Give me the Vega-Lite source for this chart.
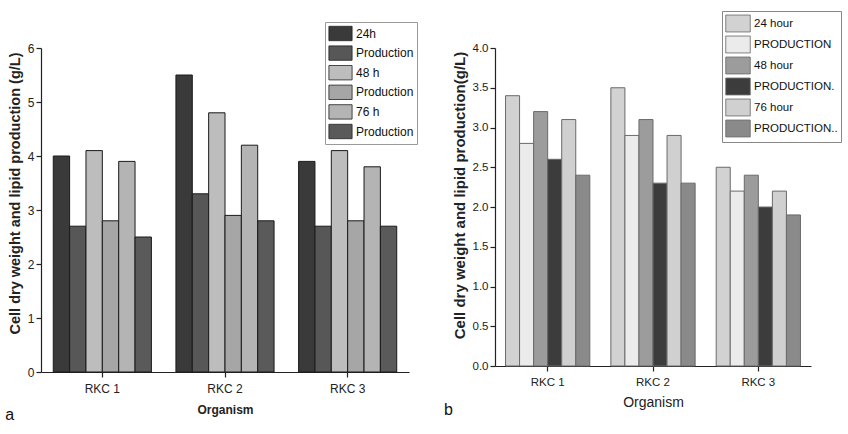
{
  "$schema": "https://vega.github.io/schema/vega-lite/v6.json",
  "background": "white",
  "padding": {"left": 5, "top": 10, "right": 2, "bottom": 0},
  "spacing": 26,
  "resolve": {"scale": {"color": "independent", "xOffset": "independent", "x": "independent", "y": "independent"}, "legend": {"color": "independent"}},
  "config": {
    "font": "Liberation Sans, Arial, sans-serif",
    "view": {"stroke": null},
    "axis": {"labelFont": "Liberation Sans, Arial, sans-serif", "titleFont": "Liberation Sans, Arial, sans-serif", "domainColor": "#222", "tickColor": "#222", "labelColor": "#222", "titleColor": "#222", "grid": false, "domainWidth": 1.2, "tickWidth": 1.2, "tickSize": 5},
    "legend": {"labelFont": "Liberation Sans, Arial, sans-serif"},
    "title": {"font": "Liberation Sans, Arial, sans-serif"}
  },
  "hconcat": [
    {
      "width": 368,
      "height": 324,
      "title": {"text": "a", "orient": "bottom", "anchor": "start", "frame": "bounds", "fontSize": 16, "fontWeight": "normal", "color": "#111", "offset": 0, "dy": -8, "dx": -2},
      "data": {"values": [
        {"organism": "RKC 1", "series": "24h", "value": 4.0},
        {"organism": "RKC 1", "series": "Production (24h)", "value": 2.7},
        {"organism": "RKC 1", "series": "48 h", "value": 4.1},
        {"organism": "RKC 1", "series": "Production (48 h)", "value": 2.8},
        {"organism": "RKC 1", "series": "76 h", "value": 3.9},
        {"organism": "RKC 1", "series": "Production (76 h)", "value": 2.5},
        {"organism": "RKC 2", "series": "24h", "value": 5.5},
        {"organism": "RKC 2", "series": "Production (24h)", "value": 3.3},
        {"organism": "RKC 2", "series": "48 h", "value": 4.8},
        {"organism": "RKC 2", "series": "Production (48 h)", "value": 2.9},
        {"organism": "RKC 2", "series": "76 h", "value": 4.2},
        {"organism": "RKC 2", "series": "Production (76 h)", "value": 2.8},
        {"organism": "RKC 3", "series": "24h", "value": 3.9},
        {"organism": "RKC 3", "series": "Production (24h)", "value": 2.7},
        {"organism": "RKC 3", "series": "48 h", "value": 4.1},
        {"organism": "RKC 3", "series": "Production (48 h)", "value": 2.8},
        {"organism": "RKC 3", "series": "76 h", "value": 3.8},
        {"organism": "RKC 3", "series": "Production (76 h)", "value": 2.7}
      ]},
      "mark": {"type": "bar", "stroke": "#1a1a1a", "strokeWidth": 1},
      "encoding": {
        "x": {"field": "organism", "type": "nominal", "scale": {"paddingInner": 0.2, "paddingOuter": 0.1},
          "axis": {"labelAngle": 0, "title": "Organism", "titleFontWeight": "bold", "titleFontSize": 12, "labelFontSize": 12, "titlePadding": 10, "labelPadding": 6}},
        "xOffset": {"field": "series", "type": "nominal", "scale": {"domain": ["24h", "Production (24h)", "48 h", "Production (48 h)", "76 h", "Production (76 h)"], "paddingInner": 0, "paddingOuter": 0}},
        "y": {"field": "value", "type": "quantitative", "scale": {"domain": [0, 6]},
          "axis": {"title": "Cell dry weight and lipid production (g/L)", "titleFontWeight": "bold", "titleFontSize": 14.5, "titleY": 145, "values": [0, 1, 2, 3, 4, 5, 6], "labelFontSize": 12, "titlePadding": 5}},
        "color": {"field": "series", "type": "nominal",
          "scale": {"domain": ["24h", "Production (24h)", "48 h", "Production (48 h)", "76 h", "Production (76 h)"],
                    "range": ["#3a3a3a", "#575757", "#bdbdbd", "#a6a6a6", "#b4b4b4", "#5a5a5a"]},
          "legend": {"title": null, "orient": "none", "legendX": 284, "legendY": -26,
            "symbolType": "M-1.45,-0.9L1.45,-0.9L1.45,0.9L-1.45,0.9Z", "symbolSize": 256, "symbolOffset": 4,
            "symbolStrokeColor": "#222", "symbolStrokeWidth": 0.8, "symbolOpacity": 1,
            "labelFontSize": 12, "labelColor": "#111", "labelOffset": 7, "rowPadding": 0.6,
            "labelExpr": "indexof(datum.label, 'Production') === 0 ? 'Production' : datum.label",
            "strokeColor": "#999", "fillColor": "white", "padding": 3}}
      }
    },
    {
      "width": 316,
      "height": 318,
      "title": {"text": "b", "orient": "bottom", "anchor": "start", "frame": "bounds", "fontSize": 16, "fontWeight": "normal", "color": "#111", "offset": 0, "dy": -8, "dx": -8},
      "data": {"values": [
        {"organism": "RKC 1", "series": "24 hour", "value": 3.4},
        {"organism": "RKC 1", "series": "PRODUCTION", "value": 2.8},
        {"organism": "RKC 1", "series": "48 hour", "value": 3.2},
        {"organism": "RKC 1", "series": "PRODUCTION.", "value": 2.6},
        {"organism": "RKC 1", "series": "76 hour", "value": 3.1},
        {"organism": "RKC 1", "series": "PRODUCTION..", "value": 2.4},
        {"organism": "RKC 2", "series": "24 hour", "value": 3.5},
        {"organism": "RKC 2", "series": "PRODUCTION", "value": 2.9},
        {"organism": "RKC 2", "series": "48 hour", "value": 3.1},
        {"organism": "RKC 2", "series": "PRODUCTION.", "value": 2.3},
        {"organism": "RKC 2", "series": "76 hour", "value": 2.9},
        {"organism": "RKC 2", "series": "PRODUCTION..", "value": 2.3},
        {"organism": "RKC 3", "series": "24 hour", "value": 2.5},
        {"organism": "RKC 3", "series": "PRODUCTION", "value": 2.2},
        {"organism": "RKC 3", "series": "48 hour", "value": 2.4},
        {"organism": "RKC 3", "series": "PRODUCTION.", "value": 2.0},
        {"organism": "RKC 3", "series": "76 hour", "value": 2.2},
        {"organism": "RKC 3", "series": "PRODUCTION..", "value": 1.9}
      ]},
      "mark": {"type": "bar", "stroke": "#6a6a6a", "strokeWidth": 1},
      "encoding": {
        "x": {"field": "organism", "type": "nominal", "scale": {"paddingInner": 0.2, "paddingOuter": 0.1},
          "axis": {"labelAngle": 0, "title": "Organism", "titleFontWeight": "normal", "titleFontSize": 14, "labelFontSize": 11.5, "titlePadding": 8, "labelPadding": 5}},
        "xOffset": {"field": "series", "type": "nominal", "scale": {"domain": ["24 hour", "PRODUCTION", "48 hour", "PRODUCTION.", "76 hour", "PRODUCTION.."], "paddingInner": 0, "paddingOuter": 0}},
        "y": {"field": "value", "type": "quantitative", "scale": {"domain": [0, 4]},
          "axis": {"title": "Cell dry weight and lipid production(g/L)", "titleFontWeight": "bold", "titleFontSize": 15, "titleY": 147, "values": [0, 0.5, 1, 1.5, 2, 2.5, 3, 3.5, 4], "format": ".1f", "labelFontSize": 11.5, "titlePadding": 5}},
        "color": {"field": "series", "type": "nominal",
          "scale": {"domain": ["24 hour", "PRODUCTION", "48 hour", "PRODUCTION.", "76 hour", "PRODUCTION.."],
                    "range": ["#d2d2d2", "#ebebeb", "#9c9c9c", "#3c3c3c", "#d0d0d0", "#8a8a8a"]},
          "legend": {"title": null, "orient": "none", "legendX": 227, "legendY": -37,
            "symbolType": "M-1.36,-0.94L1.36,-0.94L1.36,0.94L-1.36,0.94Z", "symbolSize": 324, "symbolOffset": 3.5,
            "symbolStrokeColor": "#666", "symbolStrokeWidth": 0.8, "symbolOpacity": 1,
            "labelFontSize": 11.5, "labelColor": "#111", "labelOffset": 6.5, "rowPadding": 0,
            "strokeColor": "#888", "fillColor": "white", "padding": 3}}
      }
    }
  ]
}
